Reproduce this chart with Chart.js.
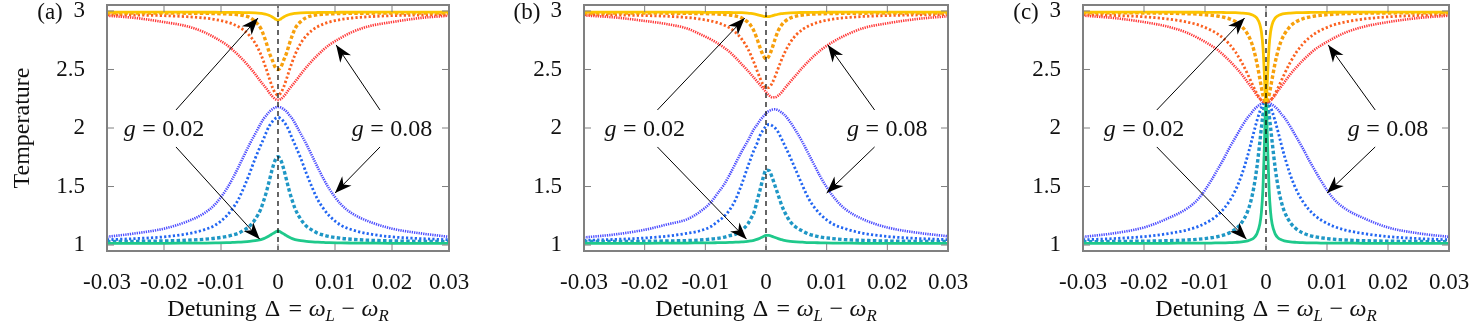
<!DOCTYPE html>
<html>
<head>
<meta charset="utf-8">
<script src="https://cdn.jsdelivr.net/npm/chart.js@4.4.0/dist/chart.umd.min.js"></script>
<style>
  body { margin: 0; background: #fff; width: 1472px; height: 322px; position: relative; overflow: hidden; }
  .panel { position: absolute; top: 0; height: 322px; }
</style>
</head>
<body>
<div class="panel" style="left:0;width:480px"><canvas id="pa"></canvas></div>
<div class="panel" style="left:490px;width:480px"><canvas id="pb"></canvas></div>
<div class="panel" style="left:990px;width:482px"><canvas id="pc"></canvas></div>
<script>
// detuning grids
var XA = [-0.03, -0.025, -0.02, -0.016, -0.013, -0.011, -0.009, -0.008, -0.007, -0.006, -0.005, -0.004, -0.003, -0.0025, -0.002, -0.0015, -0.001, -0.0005,
  0, 0.0005, 0.001, 0.0015, 0.002, 0.0025, 0.003, 0.004, 0.005, 0.006, 0.007, 0.008, 0.009, 0.011, 0.013, 0.016, 0.02, 0.025, 0.03];
var XC = [-0.03, -0.025, -0.02, -0.016, -0.013, -0.011, -0.009, -0.008, -0.007, -0.006, -0.005, -0.004, -0.003, -0.0025, -0.002, -0.0015, -0.001, -0.00075, -0.0005, -0.0003, -0.0002, -0.0001,
  0, 0.0001, 0.0002, 0.0003, 0.0005, 0.00075, 0.001, 0.0015, 0.002, 0.0025, 0.003, 0.004, 0.005, 0.006, 0.007, 0.008, 0.009, 0.011, 0.013, 0.016, 0.02, 0.025, 0.03];

var XTICKS = [-0.03, -0.02, -0.01, 0, 0.01, 0.02, 0.03];
var YTICKS = [1, 1.5, 2, 2.5, 3];

// panel (a)
var aYellow = [2.99, 2.99, 2.99, 2.99, 2.989, 2.989, 2.988, 2.988, 2.987, 2.986, 2.985, 2.983, 2.979, 2.976, 2.97, 2.961, 2.948, 2.932,
  2.92, 2.932, 2.948, 2.961, 2.97, 2.976, 2.979, 2.983, 2.985, 2.986, 2.987, 2.988, 2.988, 2.989, 2.989, 2.99, 2.99, 2.99, 2.99];
var aOrange = [2.983, 2.983, 2.982, 2.981, 2.98, 2.978, 2.975, 2.972, 2.968, 2.96, 2.945, 2.91, 2.85, 2.79, 2.72, 2.64, 2.58, 2.52,
  2.50, 2.52, 2.58, 2.64, 2.72, 2.79, 2.85, 2.91, 2.945, 2.96, 2.968, 2.972, 2.975, 2.978, 2.98, 2.981, 2.982, 2.983, 2.983];
var aOrangeRed = [2.968, 2.965, 2.96, 2.951, 2.94, 2.927, 2.905, 2.889, 2.867, 2.836, 2.79, 2.725, 2.628, 2.565, 2.495, 2.42, 2.35, 2.30,
  2.28, 2.30, 2.35, 2.42, 2.495, 2.565, 2.628, 2.725, 2.79, 2.836, 2.867, 2.889, 2.905, 2.927, 2.94, 2.951, 2.96, 2.965, 2.968];
var aRed = [2.96, 2.94, 2.905, 2.87, 2.82, 2.77, 2.71, 2.67, 2.625, 2.575, 2.52, 2.46, 2.395, 2.365, 2.335, 2.30, 2.27, 2.248,
  2.24, 2.248, 2.27, 2.30, 2.335, 2.365, 2.395, 2.46, 2.52, 2.575, 2.625, 2.67, 2.71, 2.77, 2.82, 2.87, 2.905, 2.94, 2.96];
var aGreen = [1.014, 1.015, 1.015, 1.016, 1.017, 1.018, 1.02, 1.022, 1.024, 1.027, 1.031, 1.037, 1.047, 1.055, 1.066, 1.08, 1.095, 1.11,
  1.12, 1.11, 1.095, 1.08, 1.066, 1.055, 1.047, 1.037, 1.031, 1.027, 1.024, 1.022, 1.02, 1.018, 1.017, 1.016, 1.015, 1.015, 1.014];
var aTeal = [1.029, 1.031, 1.035, 1.041, 1.049, 1.058, 1.073, 1.085, 1.10, 1.127, 1.16, 1.22, 1.31, 1.38, 1.46, 1.555, 1.65, 1.725,
  1.755, 1.725, 1.65, 1.555, 1.46, 1.38, 1.31, 1.22, 1.16, 1.127, 1.10, 1.085, 1.073, 1.058, 1.049, 1.041, 1.035, 1.031, 1.029];
var aBlue = [1.045, 1.055, 1.07, 1.095, 1.13, 1.17, 1.25, 1.31, 1.385, 1.49, 1.61, 1.74, 1.855, 1.91, 1.97, 2.02, 2.055, 2.08,
  2.09, 2.08, 2.055, 2.02, 1.97, 1.91, 1.855, 1.74, 1.61, 1.49, 1.385, 1.31, 1.25, 1.17, 1.13, 1.095, 1.07, 1.055, 1.045];
var aViolet = [1.07, 1.10, 1.14, 1.20, 1.27, 1.35, 1.48, 1.565, 1.66, 1.76, 1.86, 1.95, 2.04, 2.08, 2.11, 2.14, 2.16, 2.175,
  2.18, 2.175, 2.16, 2.14, 2.11, 2.08, 2.04, 1.95, 1.86, 1.76, 1.66, 1.565, 1.48, 1.35, 1.27, 1.20, 1.14, 1.10, 1.07];

// panel (b)
var bYellow = [2.99, 2.99, 2.99, 2.99, 2.989, 2.989, 2.988, 2.988, 2.987, 2.987, 2.986, 2.985, 2.982, 2.979, 2.975, 2.969, 2.962, 2.955,
  2.951, 2.952, 2.958, 2.966, 2.972, 2.977, 2.98, 2.984, 2.986, 2.987, 2.988, 2.988, 2.989, 2.989, 2.99, 2.99, 2.99, 2.99, 2.99];
var bOrange = [2.983, 2.983, 2.982, 2.981, 2.98, 2.978, 2.976, 2.974, 2.971, 2.966, 2.957, 2.94, 2.905, 2.875, 2.83, 2.765, 2.69, 2.625,
  2.59, 2.615, 2.68, 2.76, 2.83, 2.875, 2.905, 2.94, 2.957, 2.966, 2.971, 2.974, 2.976, 2.978, 2.98, 2.981, 2.982, 2.983, 2.983];
var bOrangeRed = [2.969, 2.966, 2.961, 2.954, 2.944, 2.932, 2.914, 2.90, 2.881, 2.855, 2.816, 2.76, 2.678, 2.624, 2.562, 2.494, 2.428, 2.373,
  2.343, 2.346, 2.382, 2.44, 2.508, 2.575, 2.636, 2.731, 2.797, 2.841, 2.872, 2.893, 2.909, 2.93, 2.942, 2.953, 2.961, 2.966, 2.969];
var bRed = [2.962, 2.945, 2.915, 2.885, 2.85, 2.805, 2.755, 2.725, 2.69, 2.65, 2.60, 2.545, 2.49, 2.46, 2.43, 2.40, 2.37, 2.34,
  2.308, 2.28, 2.263, 2.262, 2.277, 2.30, 2.333, 2.395, 2.455, 2.515, 2.57, 2.62, 2.665, 2.735, 2.79, 2.853, 2.895, 2.932, 2.955];
var bGreen = [1.014, 1.015, 1.015, 1.016, 1.017, 1.018, 1.019, 1.02, 1.021, 1.022, 1.024, 1.027, 1.031, 1.035, 1.04, 1.048, 1.058, 1.07,
  1.082, 1.083, 1.074, 1.064, 1.055, 1.047, 1.04, 1.032, 1.027, 1.024, 1.021, 1.02, 1.019, 1.017, 1.016, 1.015, 1.015, 1.014, 1.014];
var bTeal = [1.03, 1.03, 1.032, 1.035, 1.038, 1.042, 1.051, 1.057, 1.066, 1.08, 1.093, 1.127, 1.18, 1.225, 1.276, 1.37, 1.467, 1.569,
  1.64, 1.637, 1.58, 1.505, 1.429, 1.352, 1.29, 1.20, 1.15, 1.12, 1.095, 1.08, 1.068, 1.055, 1.046, 1.04, 1.034, 1.031, 1.03];
var bBlue = [1.04, 1.048, 1.06, 1.078, 1.10, 1.12, 1.16, 1.20, 1.24, 1.30, 1.39, 1.52, 1.67, 1.74, 1.81, 1.865, 1.935, 1.98,
  2.015, 2.03, 2.02, 2.00, 1.965, 1.915, 1.86, 1.75, 1.63, 1.51, 1.40, 1.32, 1.26, 1.18, 1.14, 1.10, 1.073, 1.056, 1.046];
var bViolet = [1.065, 1.09, 1.13, 1.18, 1.22, 1.28, 1.37, 1.44, 1.51, 1.60, 1.70, 1.80, 1.89, 1.94, 1.99, 2.025, 2.065, 2.095,
  2.125, 2.145, 2.157, 2.16, 2.152, 2.135, 2.115, 2.05, 1.97, 1.88, 1.78, 1.68, 1.58, 1.42, 1.31, 1.22, 1.15, 1.105, 1.075];

// panel (c)
var cYellow = [2.99, 2.99, 2.99, 2.99, 2.989, 2.989, 2.988, 2.988, 2.987, 2.986, 2.985, 2.982, 2.977, 2.971, 2.96, 2.939, 2.884, 2.82, 2.69, 2.497, 2.374, 2.265,
  2.22, 2.265, 2.374, 2.497, 2.69, 2.82, 2.884, 2.939, 2.96, 2.971, 2.977, 2.982, 2.985, 2.986, 2.987, 2.988, 2.988, 2.989, 2.989, 2.99, 2.99, 2.99, 2.99];
var cOrange = [2.985, 2.984, 2.983, 2.981, 2.977, 2.972, 2.963, 2.957, 2.947, 2.933, 2.91, 2.87, 2.80, 2.746, 2.667, 2.557, 2.418, 2.346, 2.28, 2.24, 2.23, 2.225,
  2.22, 2.225, 2.23, 2.24, 2.28, 2.346, 2.418, 2.557, 2.667, 2.746, 2.80, 2.87, 2.91, 2.933, 2.947, 2.957, 2.963, 2.972, 2.977, 2.981, 2.983, 2.984, 2.985];
var cOrangeRed = [2.969, 2.962, 2.95, 2.931, 2.906, 2.879, 2.836, 2.806, 2.767, 2.716, 2.649, 2.563, 2.459, 2.403, 2.347, 2.295, 2.253, 2.237, 2.23, 2.224, 2.222, 2.22,
  2.22, 2.22, 2.222, 2.224, 2.23, 2.237, 2.253, 2.295, 2.347, 2.403, 2.459, 2.563, 2.649, 2.716, 2.767, 2.806, 2.836, 2.879, 2.906, 2.931, 2.95, 2.962, 2.969];
var cRed = [2.96, 2.94, 2.905, 2.865, 2.815, 2.765, 2.705, 2.67, 2.625, 2.575, 2.52, 2.46, 2.39, 2.355, 2.32, 2.28, 2.25, 2.235, 2.225, 2.222, 2.221, 2.22,
  2.22, 2.22, 2.221, 2.222, 2.225, 2.235, 2.25, 2.28, 2.32, 2.355, 2.39, 2.46, 2.52, 2.575, 2.625, 2.67, 2.705, 2.765, 2.815, 2.865, 2.905, 2.94, 2.96];
var cGreen = [1.014, 1.014, 1.015, 1.015, 1.016, 1.016, 1.017, 1.018, 1.019, 1.02, 1.023, 1.027, 1.036, 1.045, 1.061, 1.095, 1.181, 1.281, 1.483, 1.783, 1.975, 2.144,
  2.22, 2.144, 1.975, 1.783, 1.483, 1.281, 1.181, 1.095, 1.061, 1.045, 1.036, 1.027, 1.023, 1.02, 1.019, 1.018, 1.017, 1.016, 1.016, 1.015, 1.015, 1.014, 1.014];
var cTeal = [1.028, 1.03, 1.033, 1.037, 1.043, 1.05, 1.062, 1.071, 1.084, 1.104, 1.136, 1.19, 1.289, 1.372, 1.491, 1.661, 1.885, 2.005, 2.114, 2.18, 2.201, 2.215,
  2.22, 2.215, 2.201, 2.18, 2.114, 2.005, 1.885, 1.661, 1.491, 1.372, 1.289, 1.19, 1.136, 1.104, 1.084, 1.071, 1.062, 1.05, 1.043, 1.037, 1.033, 1.03, 1.028];
var cBlue = [1.045, 1.055, 1.072, 1.098, 1.128, 1.161, 1.214, 1.253, 1.305, 1.375, 1.469, 1.597, 1.765, 1.862, 1.963, 2.06, 2.143, 2.175, 2.20, 2.213, 2.217, 2.22,
  2.22, 2.22, 2.217, 2.213, 2.20, 2.175, 2.143, 2.06, 1.963, 1.862, 1.765, 1.597, 1.469, 1.375, 1.305, 1.253, 1.214, 1.161, 1.128, 1.098, 1.072, 1.055, 1.045];
var cViolet = [1.07, 1.10, 1.15, 1.23, 1.31, 1.40, 1.55, 1.64, 1.73, 1.83, 1.92, 2.01, 2.09, 2.12, 2.155, 2.18, 2.20, 2.208, 2.215, 2.218, 2.219, 2.22,
  2.22, 2.22, 2.219, 2.218, 2.215, 2.208, 2.20, 2.18, 2.155, 2.12, 2.09, 2.01, 1.92, 1.83, 1.73, 1.64, 1.55, 1.40, 1.31, 1.23, 1.15, 1.10, 1.07];

// line styles (first one drawn on top)
var STYLES = {
  yellow:    { color: '#fcc400', width: 2.8, dash: [] },
  orange:    { color: '#f7a00c', width: 3.4, dash: [3.5, 2.3] },
  orangeRed: { color: '#fb6120', width: 2.8, dash: [2.2, 2.2] },
  red:       { color: '#ff3838', width: 2.6, dash: [1.3, 1.0] },
  green:     { color: '#1fc98b', width: 2.8, dash: [] },
  teal:      { color: '#1f97c5', width: 3.4, dash: [3.5, 2.3] },
  blue:      { color: '#2266f2', width: 2.8, dash: [2.2, 2.2] },
  violet:    { color: '#4d4dff', width: 2.6, dash: [1.3, 1.0] }
};

var FONT = "'Liberation Serif', 'Times New Roman', serif";
var FS = 23;
var FT = 24;

// arrows and labels in data coordinates
var ARROWS = [
  [-0.0179, 2.154, -0.0035, 2.94],
  [-0.0179, 1.838, -0.0032, 1.05],
  [0.0179, 2.154, 0.0102, 2.71],
  [0.0179, 1.838, 0.0100, 1.444]
];
var GLABELS = [[-0.02, 2.0, '0.02'], [0.02, 2.0, '0.08']];

function drawParts(ctx, parts, x, y, size) {
  // parts drawn centred at x, baseline y
  var w = 0;
  parts.forEach(function(p) {
    ctx.font = (p.it ? 'italic ' : '') + (p.sub ? size * 0.7 : size) + 'px ' + FONT;
    p.w = ctx.measureText(p.t).width + (p.gap || 0);
    w += p.w;
  });
  var cx = x - w / 2;
  parts.forEach(function(p) {
    ctx.font = (p.it ? 'italic ' : '') + (p.sub ? size * 0.7 : size) + 'px ' + FONT;
    ctx.fillText(p.t, cx + (p.gap || 0) / 2, y + (p.sub ? size * 0.22 : 0));
    cx += p.w;
  });
}

function arrow(ctx, x1, y1, x2, y2) {
  ctx.beginPath();
  ctx.moveTo(x1, y1);
  ctx.lineTo(x2, y2);
  ctx.stroke();
  var ang = Math.atan2(y2 - y1, x2 - x1);
  var L = 17, W = 6.5, N = 12;
  var c = Math.cos(ang), s = Math.sin(ang);
  ctx.beginPath();
  ctx.moveTo(x2, y2);
  ctx.lineTo(x2 - L * c - W * s, y2 - L * s + W * c);
  ctx.lineTo(x2 - N * c, y2 - N * s);
  ctx.lineTo(x2 - L * c + W * s, y2 - L * s - W * c);
  ctx.closePath();
  ctx.fill();
}

var decorPlugin = {
  id: 'decor',
  afterDatasetsDraw: function(chart) {
    var ctx = chart.ctx, a = chart.chartArea, x = chart.scales.x, y = chart.scales.y;
    var opt = chart.options.plugins.decor;
    ctx.save();
    // zero detuning line
    var x0 = x.getPixelForValue(0);
    ctx.strokeStyle = '#000';
    ctx.lineWidth = 1.2;
    ctx.setLineDash([5, 4]);
    ctx.beginPath();
    ctx.moveTo(x0, a.bottom);
    ctx.lineTo(x0, a.top);
    ctx.stroke();
    ctx.setLineDash([]);

    // frame with inward ticks
    ctx.strokeStyle = '#808080';
    ctx.lineWidth = 1;
    XTICKS.forEach(function(v) {
      var px = x.getPixelForValue(v);
      ctx.beginPath();
      ctx.moveTo(px, a.bottom); ctx.lineTo(px, a.bottom - 7);
      ctx.moveTo(px, a.top); ctx.lineTo(px, a.top + 7);
      ctx.stroke();
    });
    YTICKS.forEach(function(v) {
      var py = y.getPixelForValue(v);
      ctx.beginPath();
      ctx.moveTo(a.left, py); ctx.lineTo(a.left + 7, py);
      ctx.moveTo(a.right, py); ctx.lineTo(a.right - 7, py);
      ctx.stroke();
    });
    ctx.lineWidth = 2;
    ctx.strokeRect(a.left, a.top, a.right - a.left, a.bottom - a.top);

    // arrows
    ctx.strokeStyle = '#000';
    ctx.fillStyle = '#000';
    ctx.lineWidth = 1;
    ARROWS.forEach(function(r) {
      arrow(ctx, x.getPixelForValue(r[0]), y.getPixelForValue(r[1]),
        x.getPixelForValue(r[2]), y.getPixelForValue(r[3]));
    });

    // g labels
    ctx.fillStyle = '#111';
    ctx.textBaseline = 'alphabetic';
    ctx.textAlign = 'left';
    GLABELS.forEach(function(g) {
      drawParts(ctx, [{ t: 'g', it: true }, { t: '=', gap: 13 }, { t: g[2] }],
        x.getPixelForValue(g[0]), y.getPixelForValue(g[1]) + 8, FT);
    });

    // axis title
    var mid = (a.left + a.right) / 2;
    drawParts(ctx, [
      { t: 'Detuning ' }, { t: '\u0394', gap: 4 }, { t: '=', gap: 13 }, { t: '\u03c9', it: true }, { t: 'L', it: true, sub: true },
      { t: '\u2212', gap: 13 }, { t: '\u03c9', it: true }, { t: 'R', it: true, sub: true }
    ], mid, 316, FT);

    // panel tag
    drawParts(ctx, [{ t: opt.tag }], a.left - 57, 19, FS);

    if (opt.ytitle) {
      ctx.translate(21, (a.top + a.bottom) / 2);
      ctx.rotate(-Math.PI / 2);
      drawParts(ctx, [{ t: 'Temperature' }], 0, 8, FT);
    }
    ctx.restore();
  }
};

function makePanel(id, xs, series, plotLeft, padRight, tag, ytitle) {
  var datasets = series.map(function(s) {
    return {
      data: xs.map(function(v, i) { return { x: v, y: s[1][i] }; }),
      borderColor: s[0].color,
      borderWidth: s[0].width,
      borderDash: s[0].dash,
      borderCapStyle: 'butt',
      pointRadius: 0,
      fill: false,
      cubicInterpolationMode: 'monotone'
    };
  });
  new Chart(document.getElementById(id), {
    type: 'line',
    data: { datasets: datasets },
    plugins: [decorPlugin],
    options: {
      animation: false,
      responsive: true,
      maintainAspectRatio: false,
      events: [],
      layout: { padding: { left: 0, right: padRight, top: 5, bottom: 0 } },
      plugins: { legend: { display: false }, tooltip: { enabled: false }, decor: { tag: tag, ytitle: ytitle } },
      scales: {
        x: {
          type: 'linear', min: -0.03, max: 0.03,
          grid: { display: false }, border: { display: false },
          afterBuildTicks: function(s) { s.ticks = XTICKS.map(function(v) { return { value: v }; }); },
          afterFit: function(s) { s.height = 71; s.paddingLeft = 0; s.paddingRight = 0; },
          ticks: {
            autoSkip: false, maxRotation: 0, padding: 10, color: '#111',
            font: { family: FONT, size: FS },
            callback: function(v) { return Math.abs(v) < 1e-9 ? '0' : v.toFixed(2); }
          }
        },
        y: {
          min: 0.949, max: 3.051,
          grid: { display: false }, border: { display: false },
          afterBuildTicks: function(s) { s.ticks = YTICKS.map(function(v) { return { value: v }; }); },
          afterFit: function(s) { s.width = plotLeft; s.paddingTop = 0; s.paddingBottom = 0; },
          ticks: {
            padding: 14, color: '#111',
            font: { family: FONT, size: FS },
            callback: function(v) { return String(v); }
          }
        }
      }
    }
  });
}

makePanel('pa', XA, [
  [STYLES.yellow, aYellow], [STYLES.orange, aOrange], [STYLES.orangeRed, aOrangeRed], [STYLES.red, aRed],
  [STYLES.green, aGreen], [STYLES.teal, aTeal], [STYLES.blue, aBlue], [STYLES.violet, aViolet]
], 107, 31, '(a)', true);

makePanel('pb', XA, [
  [STYLES.yellow, bYellow], [STYLES.orange, bOrange], [STYLES.orangeRed, bOrangeRed], [STYLES.red, bRed],
  [STYLES.green, bGreen], [STYLES.teal, bTeal], [STYLES.blue, bBlue], [STYLES.violet, bViolet]
], 94, 22, '(b)', false);

makePanel('pc', XC, [
  [STYLES.yellow, cYellow], [STYLES.orange, cOrange], [STYLES.orangeRed, cOrangeRed], [STYLES.red, cRed],
  [STYLES.green, cGreen], [STYLES.teal, cTeal], [STYLES.blue, cBlue], [STYLES.violet, cViolet]
], 93, 23, '(c)', false);
</script>
</body>
</html>
